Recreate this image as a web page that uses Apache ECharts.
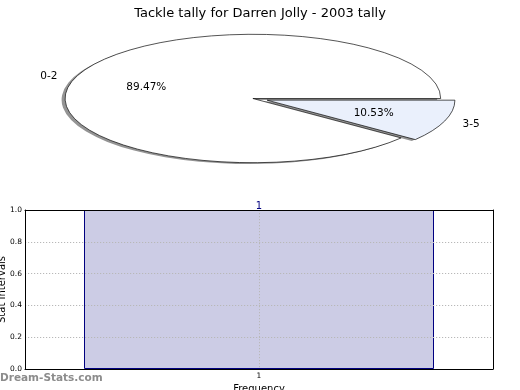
<!DOCTYPE html>
<html><head><meta charset="utf-8">
<script src="https://cdn.jsdelivr.net/npm/echarts@6/dist/echarts.min.js"></script>
<style>html,body{margin:0;padding:0;background:#fff}#c{width:520px;height:390px}</style>
</head><body><div id="c"></div>
<script>
const chartTitle = 'Tackle tally for Darren Jolly - 2003 tally';
const pieLabels = ['0-2', '3-5'];
const pieValues = [17, 2];
const pieExplode = [0, 0.08];
const pieColors = ['#ffffff', '#eaf0fc'];
const barCategories = [1];
const barValues = [1];
const xAxisName = 'Frequency';
const yAxisName = 'Stat Intervals';
const watermark = 'Dream-Stats.com';

const FONT = 'DejaVu Sans';
const PIE = { cx: 252.9, cy: 98.5, rx: 187.8, ry: 64.2 };

function renderPie(params, api) {
  const i = params.dataIndex;
  const total = pieValues.reduce((a, b) => a + b, 0);
  let before = 0;
  for (let k = 0; k < i; k++) before += pieValues[k];
  const v = api.value(0);
  const a0 = before / total * 2 * Math.PI;
  const a1 = (before + v) / total * 2 * Math.PI;
  const mid = (a0 + a1) / 2;
  const e = pieExplode[i];
  const c = Math.cos(mid), s = Math.sin(mid);
  const ox = PIE.cx + e * PIE.rx * c;
  const oy = PIE.cy - e * PIE.ry * s;
  const sy = PIE.ry / PIE.rx;
  const shape = { cx: 0, cy: 0, r: PIE.rx, r0: 0, startAngle: -a1, endAngle: -a0, clockwise: true };
  const pct = (v / total * 100).toFixed(2) + '%';
  return {
    type: 'group',
    children: [
      { type: 'sector', x: ox - 3.5, y: oy + 1.4, scaleY: sy, shape: shape,
        style: { fill: 'rgba(60,60,60,0.55)' }, z2: 0 },
      { type: 'sector', x: ox, y: oy, scaleY: sy, shape: shape,
        style: { fill: pieColors[i], stroke: '#000', lineWidth: 1, strokeNoScale: true }, z2: 5 },
      { type: 'text', x: PIE.cx + (1.1 + e) * PIE.rx * c, y: PIE.cy - (1.1 + e) * PIE.ry * s + 1,
        style: { text: pieLabels[i], align: c < 0 ? 'right' : 'left', verticalAlign: 'middle',
          fontFamily: FONT, fontSize: 10.5, fill: '#000' }, z2: 10 },
      { type: 'text', x: PIE.cx + (0.6 + e) * PIE.rx * c, y: PIE.cy - (0.6 + e) * PIE.ry * s + 1,
        style: { text: pct, align: 'center', verticalAlign: 'middle',
          fontFamily: FONT, fontSize: 10.5, fill: '#000' }, z2: 10 }
    ]
  };
}

const chart = echarts.init(document.getElementById('c'), null, { renderer: 'canvas' });
chart.setOption({
  animation: false,
  backgroundColor: '#fff',
  title: {
    text: chartTitle, left: 'center', top: 2,
    textStyle: { fontFamily: FONT, fontSize: 13, fontWeight: 'normal', color: '#000' }
  },
  grid: { left: 25, right: 27, top: 210, bottom: 21, show: false,
    containLabel: false, outerBoundsMode: 'none' },
  xAxis: [
    { type: 'value', min: 0, max: 2, interval: 1, position: 'bottom',
      name: xAxisName, nameLocation: 'middle', nameGap: 15, nameMoveOverlap: false,
      nameTextStyle: { fontFamily: FONT, fontSize: 10, color: '#000' },
      axisLine: { show: true, onZero: false, lineStyle: { color: '#000', width: 1 } },
      axisTick: { show: false },
      axisLabel: { fontFamily: FONT, fontSize: 7.5, color: '#000', margin: 3,
        formatter: v => barCategories.indexOf(v) >= 0 ? String(v) : '' },
      splitLine: { show: true, showMinLine: false, showMaxLine: false,
        lineStyle: { color: '#b8b8b8', type: [1.2, 1.8], width: 1 } },
      z: 10 },
    { type: 'value', min: 0, max: 2, position: 'top',
      axisLine: { show: true, onZero: false, lineStyle: { color: '#000', width: 1 } },
      axisTick: { show: false }, axisLabel: { show: false }, splitLine: { show: false }, z: 10 }
  ],
  yAxis: [
    { type: 'value', min: 0, max: 1, interval: 0.2, position: 'left',
      name: yAxisName, nameLocation: 'middle', nameGap: 18, nameMoveOverlap: false,
      nameTextStyle: { fontFamily: FONT, fontSize: 10, color: '#000' },
      axisLine: { show: true, onZero: false, lineStyle: { color: '#000', width: 1 } },
      axisTick: { show: false },
      axisLabel: { fontFamily: FONT, fontSize: 7.5, color: '#000', margin: 3,
        formatter: v => v.toFixed(1) },
      splitLine: { show: true, showMinLine: false, showMaxLine: false,
        lineStyle: { color: '#b8b8b8', type: [1.2, 1.8], width: 1 } },
      z: 10 },
    { type: 'value', min: 0, max: 1, position: 'right',
      axisLine: { show: true, onZero: false, lineStyle: { color: '#000', width: 1 } },
      axisTick: { show: false }, axisLabel: { show: false }, splitLine: { show: false }, z: 10 }
  ],
  graphic: [
    { type: 'text', left: 0, top: 373,
      style: { text: watermark, fontFamily: FONT, fontSize: 10.5, fontWeight: 'bold', fill: '#8c8c8c' } }
  ],
  series: [
    { type: 'custom', coordinateSystem: 'none', renderItem: renderPie,
      data: pieValues.map(v => [v]) },
    { type: 'bar', xAxisIndex: 0, yAxisIndex: 0,
      data: barCategories.map((c, i) => [c, barValues[i]]),
      barWidth: 350,
      itemStyle: { color: '#ccccE5', borderColor: '#000080', borderWidth: 1 },
      label: { show: true, position: 'top', distance: -1, color: '#000080',
        fontFamily: FONT, fontSize: 10, formatter: p => String(p.value[1]) } }
  ]
});
</script></body></html>
